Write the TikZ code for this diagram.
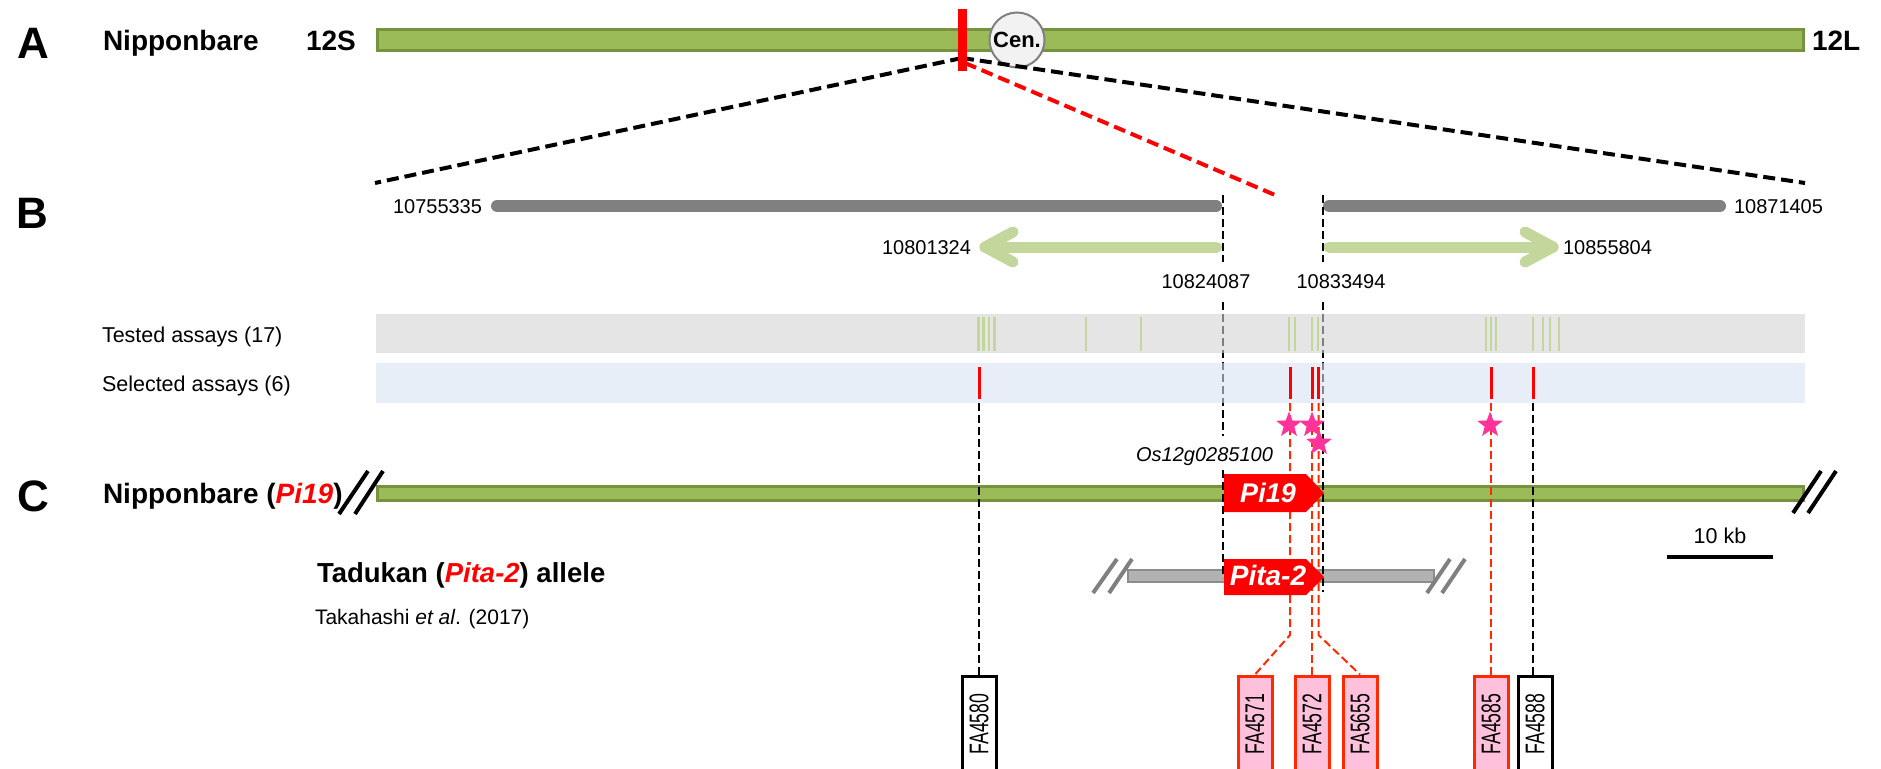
\documentclass[tikz,border=0pt]{standalone}
\usepackage{fontspec}
\setmainfont{Liberation Sans}
\usetikzlibrary{shapes.geometric}
\definecolor{chrgreen}{HTML}{9BBB59}
\definecolor{chrline}{HTML}{76923C}
\definecolor{lightgreen}{HTML}{C3D69B}
\definecolor{bandgray}{HTML}{D5D5D5}
\definecolor{bandblue}{HTML}{DAE4F2}
\definecolor{bargray}{HTML}{808080}
\definecolor{cenfill}{HTML}{F2F2F2}
\definecolor{pitafill}{HTML}{B2B2B2}
\definecolor{pitaline}{HTML}{8C8C8C}
\definecolor{dashred}{HTML}{FF2A00}
\definecolor{starpink}{HTML}{FF3399}
\definecolor{boxpink}{HTML}{FFC0DC}
\newcommand{\fsz}[1]{\fontsize{#1}{#1}\selectfont}
\newcommand{\falabel}[1]{\scalebox{0.655}[1]{#1}}
\tikzset{
  txt/.style={inner sep=0pt, outer sep=0pt},
  bigletter/.style={txt, font=\fsz{44}\bfseries},
  boldlbl/.style={txt, font=\fsz{28}\bfseries},
  num/.style={txt, font=\fsz{20}},
  thickdash/.style={line width=4pt, dash pattern=on 12pt off 6pt},
  thindash/.style={line width=2pt, dash pattern=on 8pt off 4pt},
  chrbar/.style={draw=chrline, fill=chrgreen, line width=3pt, inner sep=0pt},
  graybar/.style={line width=12pt, line cap=round, draw=bargray},
  garrow/.style={line width=11pt, line cap=round, line join=round, draw=lightgreen},
  testtick/.style={line width=2.5pt, draw=lightgreen},
  seltick/.style={line width=3pt, draw=red},
  fabox/.style={line width=3pt, rotate=90, anchor=east, minimum width=96pt, minimum height=34pt, inner sep=0pt, font=\fsz{27}},
  selbox/.style={fabox, draw=dashred, fill=boxpink},
  plainbox/.style={fabox, draw=black, fill=white},
  starmark/.style={star, star points=5, star point ratio=2.4, fill=starpink, inner sep=0pt, minimum size=27pt},
  slashmark/.style={line width=4pt},
}
\begin{document}
\begin{tikzpicture}[x=1pt,y=-1pt]
\useasboundingbox (0,0) rectangle (1881,768);
\clip (0,0) rectangle (1881,768);
\fill[white] (0,0) rectangle (1881,768);

% ---------------- Panel A ----------------
\node[bigletter, anchor=base] (labA) at (33,59) {A};
\node[boldlbl, anchor=base west] (nipA) at (103,51) {Nipponbare};
\node[boldlbl, anchor=base west] (s12) at (306,51) {12S};
\node[boldlbl, anchor=base west] (l12) at (1812,51) {12L};
\node[chrbar, minimum width=1426pt, minimum height=21pt] (chrA) at (1090.5,40) {};
\node[circle, draw=bargray, fill=cenfill, line width=2pt, minimum size=55pt, inner sep=0pt, font=\fsz{22}\bfseries] (cen) at (1017,40) {Cen.};

\coordinate (focus) at (962,58);
\coordinate (focusR) at (965,63);
\coordinate (bL) at (375,183);
\coordinate (bR) at (1805,183);
\coordinate (redEnd) at (1275,195);
\draw[thickdash] (focus) -- (bL);
\draw[thickdash] (focus) -- (bR);
\draw[thickdash, draw=red] (focusR) -- (redEnd);
\node[fill=red, minimum width=9pt, minimum height=62pt, inner sep=0pt] (redmark) at (962.5,40) {};

% ---------------- Panel B ----------------
\node[bigletter, anchor=base] (labB) at (32,228) {B};
\coordinate (gl1) at (497,206);
\coordinate (gl2) at (1216,206);
\coordinate (gr1) at (1329,206);
\coordinate (gr2) at (1720,206);
\draw[graybar] (gl1) -- (gl2);
\draw[graybar] (gr1) -- (gr2);
\node[num, anchor=base east] (n755) at (482,213) {10755335};
\node[num, anchor=base west] (n871) at (1734,213) {10871405};

\coordinate (al1) at (1216.5,247);
\coordinate (al2) at (985,247);
\draw[garrow] (al1) -- (al2);
\draw[garrow] (1013,232) -- (al2) -- (1013,262);
\coordinate (ar1) at (1329,247);
\coordinate (ar2) at (1553,247);
\draw[garrow] (ar1) -- (ar2);
\draw[garrow] (1525,232) -- (ar2) -- (1525,262);
\node[num, anchor=base east] (n801) at (971,254) {10801324};
\node[num, anchor=base west] (n855) at (1563,254) {10855804};
\node[num, anchor=base] (n824) at (1206,288) {10824087};
\node[num, anchor=base] (n833) at (1341,288) {10833494};

% vertical boundary lines
\draw[thindash] (1222.5,195) -- (1222.5,262);
\draw[thindash] (1222.5,302) -- (1222.5,436);
\draw[thindash] (1323,195) -- (1323,262);

\node[txt, font=\fsz{21.5}, anchor=base west] (tested) at (102,342) {Tested assays (17)};
\node[txt, font=\fsz{21.5}, anchor=base west] (selected) at (102,391) {Selected assays (6)};

% ---------------- Panel C (bar first) ----------------
\node[bigletter, anchor=base] (labC) at (33,511) {C};
\node[boldlbl, anchor=base west] (nipC) at (103,503) {Nipponbare (\textcolor{red}{\textit{Pi19}})};
\node[chrbar, minimum width=1426pt, minimum height=14pt] (chrC) at (1090.5,493.5) {};
\draw[slashmark] (339,514) -- (368,471);
\draw[slashmark] (355,514) -- (383,471);
\draw[slashmark] (1793,513) -- (1821,471);
\draw[slashmark] (1808,513) -- (1836,471);

\node[boldlbl, font=\fsz{27.5}\bfseries, anchor=base west] (tadukan) at (317,582) {Tadukan (\textcolor{red}{\textit{Pita-2}}) allele};
\node[txt, font=\fsz{21}, anchor=base west] (takahashi) at (315,624) {Takahashi \textit{et al}. (2017)};

\node[draw=pitaline, fill=pitafill, line width=2pt, minimum width=306pt, minimum height=12pt, inner sep=0pt] (pitabar) at (1281,576) {};
\draw[slashmark, draw=bargray] (1093,593) -- (1117,559);
\draw[slashmark, draw=bargray] (1109,593) -- (1132,559);
\draw[slashmark, draw=bargray] (1427,593) -- (1450,559);
\draw[slashmark, draw=bargray] (1442,593) -- (1465,559);

% long boundary lines into panel C
\draw[thindash] (1323,302) -- (1323,592);
\draw[thindash] (1222.5,470) -- (1222.5,578);

% boxes at the bottom
\node[plainbox] (fa4580) at (979,674.5) {\falabel{FA4580}};
\node[selbox] (fa4571) at (1255,674.5) {\falabel{FA4571}};
\node[selbox] (fa4572) at (1312,674.5) {\falabel{FA4572}};
\node[selbox] (fa5655) at (1360,674.5) {\falabel{FA5655}};
\node[selbox] (fa4585) at (1491,674.5) {\falabel{FA4585}};
\node[plainbox] (fa4588) at (1535,674.5) {\falabel{FA4588}};

% selected-assay lines
\coordinate (s1) at (979,403);
\coordinate (s2) at (1290,403);
\coordinate (s3) at (1312,403);
\coordinate (s4) at (1318.5,403);
\coordinate (s5) at (1491,403);
\coordinate (s6) at (1533,403);
\coordinate (k2) at (1290,635);
\coordinate (k4) at (1318.5,635);
\draw[thindash] (s1) -- (fa4580.east);
\draw[thindash, draw=dashred] (s2) -- (k2) -- (fa4571.east);
\draw[thindash, draw=dashred] (s3) -- (fa4572.east);
\draw[thindash, draw=dashred] (s4) -- (k4) -- (fa5655.east);
\draw[thindash, draw=dashred] (s5) -- (fa4585.east);
\draw[thindash] (s6) -- (s6 |- fa4588.east);

% bands (semi-transparent, over the boundary lines)
\fill[bandgray, fill opacity=0.6] (376,314) rectangle (1805,353);
\fill[bandblue, fill opacity=0.6] (376,363) rectangle (1805,403);
\foreach \x in {978.6,983.7,988.8,994.4,1086,1141,1289,1295,1312,1318,1486,1491,1496,1533,1543,1550,1559}
  \draw[testtick] (\x,317) -- (\x,351);
\foreach \x in {979,1290,1312,1318.5,1491,1533}
  \draw[seltick] (\x,367) -- (\x,399);

% gene boxes
\fill[red] (1224,474) -- (1306,474) -- (1324,493) -- (1306,512) -- (1224,512) -- cycle;
\node[txt, font=\fsz{27}\bfseries\itshape, text=white, anchor=base] (pi19) at (1268,502) {Pi19};
\fill[red] (1224,559) -- (1306,559) -- (1324,577) -- (1306,595) -- (1224,595) -- cycle;
\node[txt, font=\fsz{28}\bfseries\itshape, text=white, anchor=base] (pita2) at (1268,585) {Pita-2};
\node[txt, font=\fsz{20}\itshape, anchor=base] (os12) at (1204.5,461) {Os12g0285100};

% stars
\node[starmark] (st1) at (1289,425) {};
\node[starmark] (st2) at (1312,425) {};
\node[starmark] (st3) at (1319,443) {};
\node[starmark] (st4) at (1490,425) {};

% scale bar
\coordinate (sb1) at (1667,557);
\coordinate (sb2) at (1773,557);
\draw[line width=4pt] (sb1) -- (sb2);
\node[txt, font=\fsz{21.5}, anchor=base] (kb) at (1720,543) {10 kb};
\end{tikzpicture}
\end{document}
